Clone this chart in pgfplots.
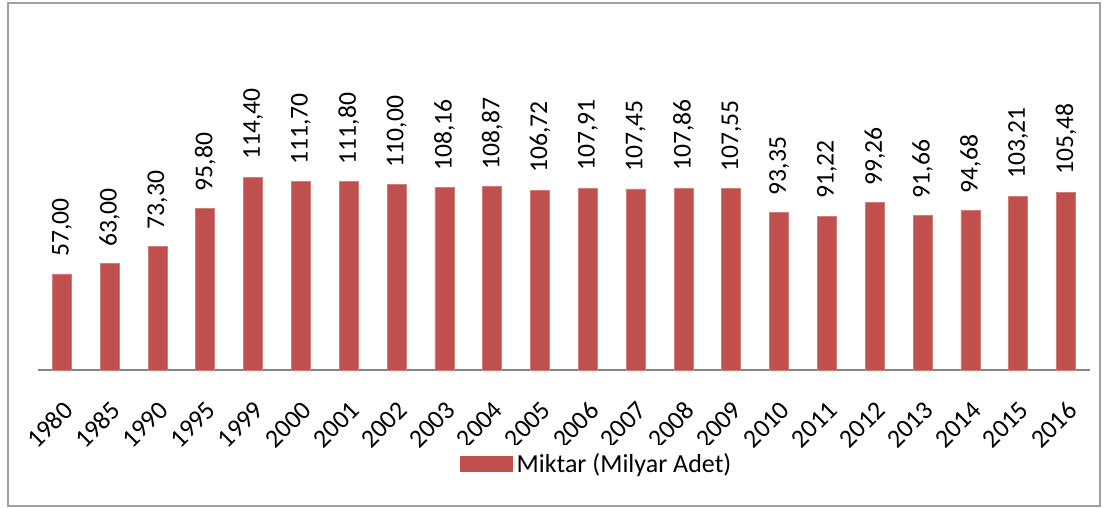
\documentclass[border=0pt]{standalone}
\usepackage{pgfplots}
\pgfplotsset{compat=1.18}
\usepackage{fontspec}
\setmainfont{Carlito}
\definecolor{barred}{RGB}{192,80,77}
\definecolor{axisgray}{RGB}{134,134,134}
\definecolor{framegray}{RGB}{160,160,160}
\begin{document}
\begin{tikzpicture}
\useasboundingbox (-19pt,-69pt) rectangle (535.5pt,185pt);
\draw[framegray, line width=1pt] (-15pt,-68pt) rectangle (531pt,183.5pt);
\begin{axis}[
  at={(0,0)}, anchor=south west,
  scale only axis, width=526pt, height=109.5pt,
  xmin=-0.5, xmax=21.5, ymin=0, ymax=130,
  axis x line*=bottom, axis y line=none,
  x axis line style={axisgray, line width=1pt},
  xtick={0,...,21},
  xticklabels={1980,1985,1990,1995,1999,2000,2001,2002,2003,2004,2005,2006,2007,2008,2009,2010,2011,2012,2013,2014,2015,2016},
  major tick length=0pt,
  x tick label style={xshift=0pt, yshift=-10pt, rotate=45, anchor=north east,
    font=\fontsize{13}{15}\selectfont},
  ytick=\empty,
  clip=false,
  legend style={draw=none, at={(0.395,-0.43)}, anchor=west,
    font=\fontsize{13}{15}\selectfont},
  legend image code/.code={\fill[barred] (0pt,-3.75pt) rectangle (26pt,3.75pt);},
]
\addplot[ybar, bar width=9.5pt, fill=barred, draw=barred!75!white, line width=0.4pt,
  nodes near coords,
  every node near coord/.append style={rotate=90, anchor=west, inner xsep=8.5pt,
    font=\fontsize{12.8}{15}\selectfont,
    /pgf/number format/.cd, fixed, fixed zerofill, precision=2, use comma, assume math mode=true}]
coordinates {
(0,57.00) (1,63.00) (2,73.30) (3,95.80) (4,114.40) (5,111.70) (6,111.80) (7,110.00)
(8,108.16) (9,108.87) (10,106.72) (11,107.91) (12,107.45) (13,107.86) (14,107.55)
(15,93.35) (16,91.22) (17,99.26) (18,91.66) (19,94.68) (20,103.21) (21,105.48)
};
\legend{Miktar (Milyar Adet)}
\end{axis}
\end{tikzpicture}
\end{document}
